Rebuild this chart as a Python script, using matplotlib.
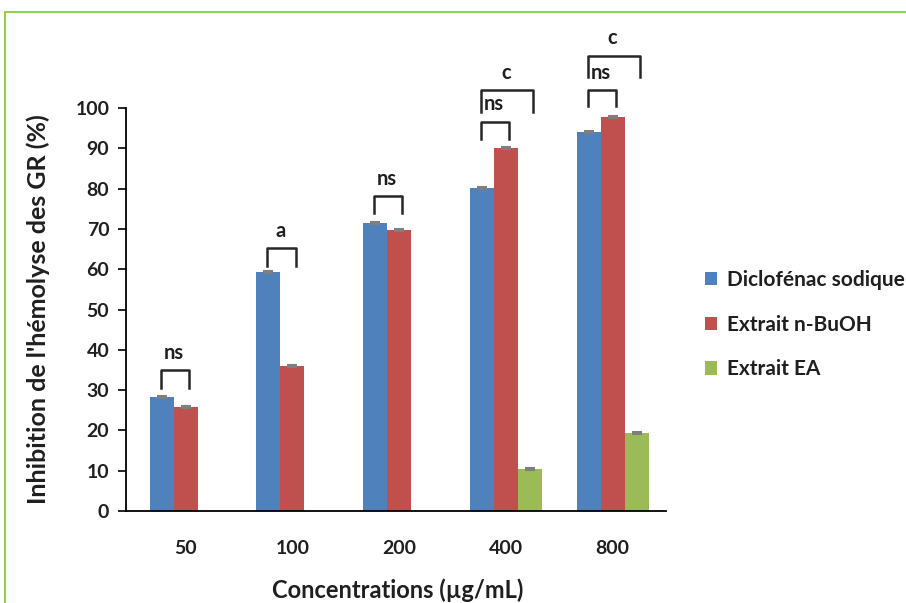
import matplotlib
matplotlib.use("Agg")
import matplotlib.pyplot as plt
import numpy as np
from matplotlib.patches import Rectangle

plt.rcParams['font.family'] = ['Lato', 'DejaVu Sans']

categories = ["50", "100", "200", "400", "800"]
series_names = ["Diclofénac sodique", "Extrait n-BuOH", "Extrait EA"]
diclofenac = [28.3, 59.3, 71.5, 80.2, 94.0]
butanol = [25.8, 36.0, 69.7, 90.1, 97.7]
ethyl_acetate = [0.0, 0.0, 0.0, 10.4, 19.3]
diclofenac_err = [0.3, 0.2, 0.3, 0.2, 0.2]
butanol_err = [0.3, 0.2, 0.2, 0.2, 0.3]
ethyl_acetate_err = [0.0, 0.0, 0.0, 0.3, 0.3]

# significance brackets: (category, first series, last series, top, leg length, label)
brackets = [
    (0, 0, 1, 35.0, 4.5, "ns"),
    (1, 0, 1, 65.3, 4.5, "a"),
    (2, 0, 1, 78.2, 4.3, "ns"),
    (3, 0, 1, 96.6, 4.3, "ns"),
    (3, 0, 2, 104.5, 5.5, "c"),
    (4, 0, 1, 104.5, 4.0, "ns"),
    (4, 0, 2, 113.0, 5.3, "c"),
]

colors = ["#4F81BD", "#C0504D", "#9BBB59"]
text_color = "#1f1f1f"

fig = plt.figure(figsize=(9.06, 6.03), dpi=100)
fig.patches.append(Rectangle((5 / 906, -0.1), 1.2, 1 - 12 / 603 + 0.1,
                             transform=fig.transFigure, fill=False,
                             edgecolor="#92D050", linewidth=1.5))

ax = fig.add_axes([126 / 906, 1 - 511 / 603, (666 - 126) / 906, (511 - 108) / 603])

x = np.arange(len(categories))
w = 0.225
all_vals = [diclofenac, butanol, ethyl_acetate]
all_errs = [diclofenac_err, butanol_err, ethyl_acetate_err]
handles = []
for i, (vals, errs) in enumerate(zip(all_vals, all_errs)):
    pos = x + (i - 1) * w
    h = ax.bar(pos, vals, width=w, color=colors[i], label=series_names[i], zorder=2)
    handles.append(h)
    for p, v, e in zip(pos, vals, errs):
        if v > 0:
            ax.errorbar(p, v, yerr=e, color="#7f7f7f", capsize=3.5,
                        elinewidth=1, capthick=1.5, zorder=3)

for cat, s0, s1, top, leg, label in brackets:
    c0 = x[cat] + (s0 - 1) * w
    c1 = x[cat] + (s1 - 1) * w
    x0, x1 = c0 - 0.01, c1 + 0.03
    ax.plot([x0, x0, x1, x1], [top - leg, top, top, top - leg],
            color="#262626", lw=1.8, solid_joinstyle="round",
            clip_on=False, zorder=4)
    lx = (c0 + c1) / 2 if s1 == 1 else x[cat]
    ax.text(lx, top + 2.8, label, ha="center", va="baseline", fontsize=14.5,
            fontweight="bold", color=text_color, clip_on=False)

ax.set_xlim(-0.56, 4.5)
ax.set_ylim(0, 100)
ax.set_yticks(range(0, 101, 10))
ax.set_xticks(x)
ax.set_xticklabels(categories)
ax.spines["top"].set_visible(False)
ax.spines["right"].set_visible(False)
ax.spines["left"].set_linewidth(1.3)
ax.spines["bottom"].set_linewidth(1.3)
ax.tick_params(axis="y", direction="out", length=6, width=1.2, labelsize=14, pad=6)
ax.tick_params(axis="x", length=0, labelsize=14, pad=21)
for lbl in ax.get_xticklabels() + ax.get_yticklabels():
    lbl.set_fontweight("bold")
    lbl.set_color(text_color)

ax.set_xlabel("Concentrations (µg/mL)", fontsize=17, fontweight="bold", color=text_color)
ax.set_ylabel("Inhibition de l'hémolyse des GR (%)", fontsize=18,
              fontweight="bold", color=text_color)
ax.xaxis.set_label_coords(0.503, -0.168)
ax.yaxis.set_label_coords(-0.14, 0.5)

fig.legend(handles=handles, loc="upper left", bbox_to_anchor=(686 / 906, 1 - 251 / 603),
           frameon=False, handlelength=0.6, handleheight=0.6,
           labelspacing=1.19, handletextpad=0.45,
           prop={"weight": "bold", "size": 15})
for t in fig.legends[0].get_texts():
    t.set_color(text_color)

fig.savefig("out.png", dpi=100)
